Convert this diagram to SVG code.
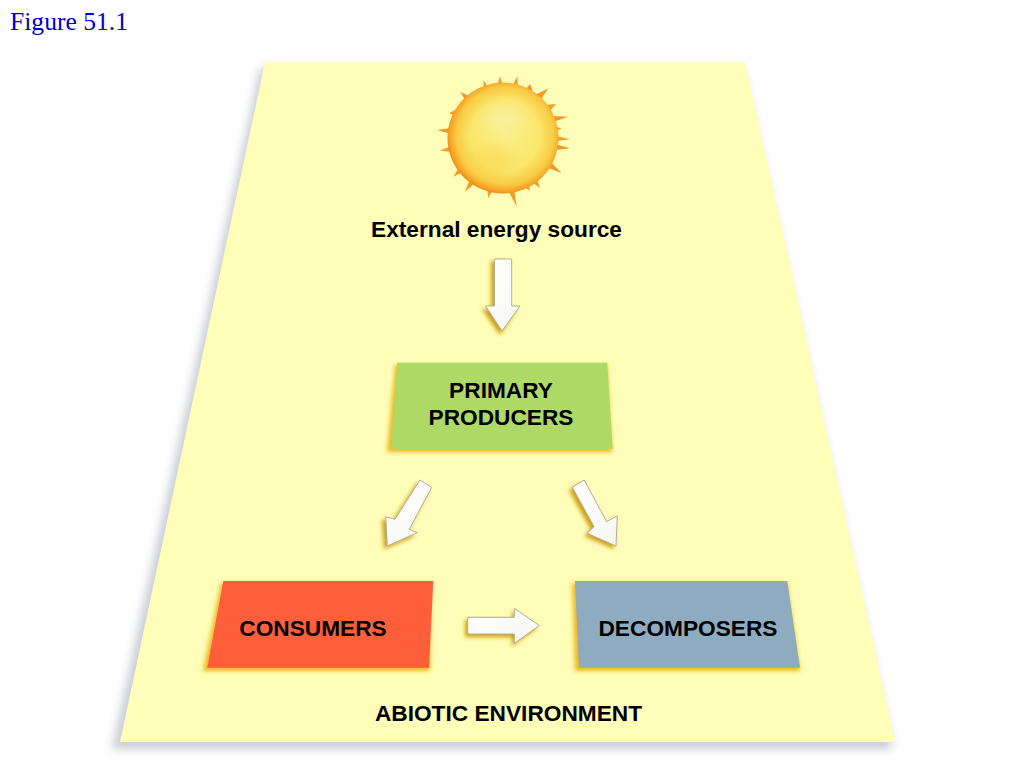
<svg xmlns="http://www.w3.org/2000/svg" width="1024" height="768" viewBox="0 0 1024 768">
  <style>
    .lbl { font-family: "Liberation Sans", Arial, sans-serif; font-weight: 700; font-size: 22.7px; fill: #000; text-anchor: middle; }
    .fig { font-family: "Liberation Serif", "Times New Roman", serif; font-size: 25.6px; fill: #0000c8; }
    .arrow { fill: url(#arrowFill); stroke: #b0b09a; stroke-width: 1; stroke-linejoin: miter; }
    .arrowShadow { fill: #d09c10; filter: url(#blur2); }
    .boxShadow { fill: #f0b820; filter: url(#blur2); }
    .spike { fill: #f59a26; }
  </style>
  <defs>
    <filter id="soft" x="-5%" y="-5%" width="110%" height="110%"><feGaussianBlur stdDeviation="0.5"/></filter>
    <filter id="blur2" x="-30%" y="-30%" width="160%" height="160%"><feGaussianBlur stdDeviation="2"/></filter>
    <filter id="blur5" x="-10%" y="-10%" width="120%" height="120%"><feGaussianBlur stdDeviation="5"/></filter>
    <filter id="blur8" x="-50%" y="-50%" width="200%" height="200%"><feGaussianBlur stdDeviation="7"/></filter>
    <linearGradient id="arrowFill" x1="0" y1="0" x2="1" y2="1">
      <stop offset="0" stop-color="#ffffff"/><stop offset="1" stop-color="#f6f6f2"/>
    </linearGradient>
    <radialGradient id="sunFill" cx="0.52" cy="0.48" r="0.52">
      <stop offset="0" stop-color="#faf088"/>
      <stop offset="0.6" stop-color="#fae76c"/>
      <stop offset="0.84" stop-color="#f9cb44"/>
      <stop offset="0.96" stop-color="#f7a326"/>
      <stop offset="1" stop-color="#f29018"/>
    </radialGradient>
  </defs>

  <text class="fig" x="10" y="30">Figure 51.1</text>

  <g id="abiotic-environment">
    <polygon points="260,68 742,68 893,749 112,749" fill="#b4b8c4" opacity="0.7" filter="url(#blur5)"/>
    <polygon points="265,62 745,62 895,742 120,742" fill="#fefeb8"/>
    <text class="lbl" x="508.500" y="720.500">ABIOTIC ENVIRONMENT</text>
  </g>

  <g id="sun">
    <g filter="url(#soft)">
      <polygon class="spike" points="500,76 497,87 503,87"/>
      <polygon class="spike" points="517.300,76 512,87 518,88"/>
      <polygon class="spike" points="483.300,80 484,89 490,90"/>
      <polygon class="spike" points="460,91.700 466,101 471,97"/>
      <polygon class="spike" points="548.300,88.300 535,95 540,101"/>
      <polygon class="spike" points="568.300,116.700 551,116 553,122"/>
      <polygon class="spike" points="436.700,130 451,128 451,134"/>
      <polygon class="spike" points="440,150.700 451,146 453,152"/>
      <polygon class="spike" points="453.300,176.700 460,166 465,171"/>
      <polygon class="spike" points="465,191.700 470,179 475,183"/>
      <polygon class="spike" points="488.300,198.300 487,187 493,189"/>
      <polygon class="spike" points="516.700,206.700 508,190 514,189"/>
      <polygon class="spike" points="540,188.300 531,181 536,176"/>
      <polygon class="spike" points="561.700,173.300 546,167 550,161"/>
      <polygon class="spike" points="570,148.300 555,144 555,150"/>
      <polygon class="spike" points="570,139.300 556,136 556,141"/>
      <polygon class="spike" points="561.700,128.300 553,126 555,132"/>
      <polygon class="spike" points="449,113 458,109 455,116"/>
      <polygon class="spike" points="556,104 546,105 550,111"/>
      <polygon class="spike" points="530,84 526,89 533,91"/>
      <polygon class="spike" points="530,191 523,186 528,182"/>
    </g>
    <circle cx="503" cy="138" r="55.500" fill="url(#sunFill)"/>
    <ellipse cx="505" cy="118" rx="20" ry="13" fill="#fbf0a8" opacity="0.7" filter="url(#blur8)"/>
    <ellipse cx="492" cy="160" rx="24" ry="13" fill="#f9d850" opacity="0.6" filter="url(#blur8)"/>
    <text class="lbl" x="496.500" y="236.500">External energy source</text>
  </g>

  <g id="primary-producers">
    <polygon class="boxShadow" points="395,365 607,365 612,452 387,452"/>
    <polygon points="397.300,362.700 607.300,362.700 612.700,449 390.700,449" fill="#aed966"/>
    <text class="lbl" x="501" y="398">PRIMARY</text>
    <text class="lbl" x="501" y="425">PRODUCERS</text>
  </g>

  <g id="consumers">
    <polygon class="boxShadow" points="221,583 431,583 430,671 203,671"/>
    <polygon points="223.300,581 433.300,581 429,667.700 207.300,667.700" fill="#ff5e3a"/>
    <text class="lbl" x="313" y="636">CONSUMERS</text>
  </g>

  <g id="decomposers">
    <polygon class="boxShadow" points="572,583 787,583 800,671 575,671"/>
    <polygon points="575,581 787.300,581 800,667.700 579,667.700" fill="#8fabbf"/>
    <text class="lbl" x="688" y="636">DECOMPOSERS</text>
  </g>

  <g id="connectors">
    <polygon class="arrowShadow" points="491,261 508,261 508,309 517,309 500,335 482,309 491,309"/>
    <polygon class="arrow" points="494.500,259 511.700,259 511.700,306 520,306 502,331 485.700,306 494.500,306"/>

    <polygon class="arrowShadow" points="417,483 429,490 407,532 415,536 384,549 382,519 392,522"/>
    <polygon class="arrow" points="420,480 431.700,487.300 409.300,529.300 417.300,532.700 387.300,546 385.700,516.700 395,519.300"/>

    <polygon class="arrowShadow" points="581,483 569,490 591,530 584,536 614,549 615,519 604,525"/>
    <polygon class="arrow" points="584.300,480 572.300,487.300 594,526.700 587.300,533.300 616,546 617.300,515.700 606.700,521.700"/>

    <polygon class="arrowShadow" points="465,620 512,620 512,611 537,628 512,646 512,637 465,637"/>
    <polygon class="arrow" points="467.700,617.300 514.300,617.300 514.300,608.300 539.300,625.500 514.300,643.300 514.300,634 467.700,634"/>
  </g>
</svg>
